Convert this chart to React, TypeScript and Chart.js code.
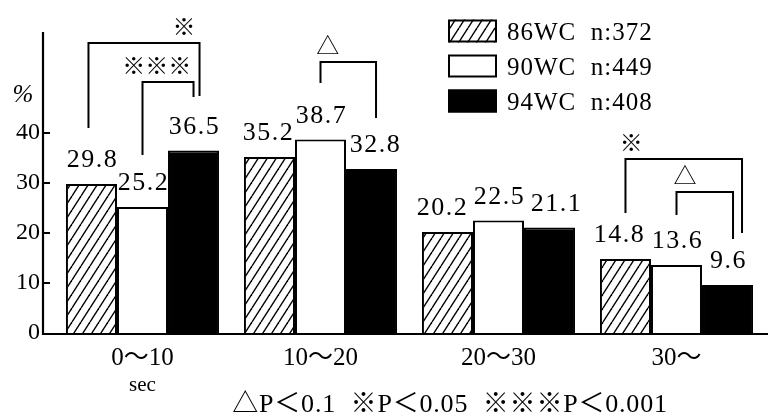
import React, { useEffect, useRef } from "react";
import { Chart, registerables } from "chart.js";

Chart.register(...registerables);

// ---------- data ----------
const categories = ["0～10", "10～20", "20～30", "30～"];
const seriesNames = ["86WC  n:372", "90WC  n:449", "94WC  n:408"];
const wc86 = [29.8, 35.2, 20.2, 14.8];
const wc90 = [25.2, 38.7, 22.5, 13.6];
const wc94 = [36.5, 32.8, 21.1, 9.6];
const yTickValues = [0, 10, 20, 30, 40];
const yUnit = "%";
const xUnit = "sec";
const footnote = "△P＜0.1  ※P＜0.05  ※※※P＜0.001";

// significance brackets: category, from-series, to-series, top value, leg end values, mark
const bracketCats = [0, 0, 1, 3, 3];
const bracketFrom = [0, 1, 1, 0, 1];
const bracketTo = [2, 2, 2, 2, 2];
const bracketTop = [58, 50.2, 54.2, 34.8, 28.2];
const bracketLeftEnd = [41, 35.6, 50, 24, 23.6];
const bracketRightEnd = [47.4, 47.2, 43, 20, 18.8];
const bracketMarks = ["※", "※※※", "△", "※", "△"];

// ---------- styles ----------
const SERIF = "'Liberation Serif', 'Noto Sans CJK JP', serif";
const MARKFONT = "'Noto Sans CJK JP', 'DejaVu Sans', sans-serif";
const bracketLeftNudge = [-3, 0, 0, 0, 0];
const bracketRightNudge = [6, 0, 4.5, 14.5, 5.5];
const bracketMarkFrac = [0.86, 0.28, 0.13, 0.05, 0.15];
// per-series, per-category horizontal label nudges (px)
const labelNudge = [
  [0, -2, -6, -7],
  [0, 0, 0, 0],
  [0, 3, 6, 0],
];

function makeHatch(): CanvasPattern | string {
  const c = document.createElement("canvas");
  const w = 9;
  const h = 14;
  c.width = w;
  c.height = h;
  const g = c.getContext("2d");
  if (!g) return "#fff";
  g.fillStyle = "#fff";
  g.fillRect(0, 0, w, h);
  g.strokeStyle = "#000";
  g.lineWidth = 1.4;
  for (const o of [-w, 0, w]) {
    g.beginPath();
    g.moveTo(o, h);
    g.lineTo(o + w, 0);
    g.stroke();
  }
  const p = g.createPattern(c, "repeat");
  return p || "#fff";
}

export default function App() {
  const ref = useRef<HTMLCanvasElement | null>(null);

  useEffect(() => {
    const canvas = ref.current;
    if (!canvas) return;
    const hatch = makeHatch();

    const overlay = {
      id: "overlay",
      afterDatasetsDraw(chart: any) {
        const ctx = chart.ctx as CanvasRenderingContext2D;
        const y = chart.scales.y;
        const area = chart.chartArea;
        const axisX = area.left - 10.5;
        const y0 = y.getPixelForValue(0);
        ctx.save();
        ctx.strokeStyle = "#000";
        ctx.fillStyle = "#000";
        ctx.lineCap = "butt";

        // axes
        ctx.lineWidth = 2.2;
        ctx.beginPath();
        ctx.moveTo(axisX, y.getPixelForValue(60) - 1);
        ctx.lineTo(axisX, y0 + 1);
        ctx.lineTo(768, y0 + 1);
        ctx.stroke();
        ctx.lineWidth = 2;
        for (const v of yTickValues) {
          if (v === 0) continue;
          const py = y.getPixelForValue(v);
          ctx.beginPath();
          ctx.moveTo(axisX, py);
          ctx.lineTo(axisX + 7, py);
          ctx.stroke();
        }

        // unit labels
        ctx.font = `italic 25px ${SERIF}`;
        ctx.textAlign = "center";
        ctx.textBaseline = "middle";
        ctx.fillText(yUnit, 23, y.getPixelForValue(47.5));
        ctx.font = `21px ${SERIF}`;
        const x0 = chart.scales.x.getPixelForValue(0);
        ctx.fillText(xUnit, x0, 385);

        // value labels
        ctx.font = `26px ${SERIF}`;
        (ctx as any).letterSpacing = "1.5px";
        ctx.textAlign = "center";
        ctx.textBaseline = "alphabetic";
        chart.data.datasets.forEach((ds: any, di: number) => {
          const meta = chart.getDatasetMeta(di);
          meta.data.forEach((bar: any, i: number) => {
            const v = ds.data[i];
            ctx.fillText(v.toFixed(1), bar.x + 1 + labelNudge[di][i], bar.y - 17);
          });
        });
        (ctx as any).letterSpacing = "0px";

        // brackets
        ctx.lineWidth = 2;
        for (let k = 0; k < bracketCats.length; k++) {
          const c = bracketCats[k];
          const lb = chart.getDatasetMeta(bracketFrom[k]).data[c];
          const rb = chart.getDatasetMeta(bracketTo[k]).data[c];
          const lx = lb.x + bracketLeftNudge[k];
          const rx = rb.x + bracketRightNudge[k];
          const ty = y.getPixelForValue(bracketTop[k]);
          ctx.beginPath();
          ctx.moveTo(lx, y.getPixelForValue(bracketLeftEnd[k]));
          ctx.lineTo(lx, ty);
          ctx.lineTo(rx, ty);
          ctx.lineTo(rx, y.getPixelForValue(bracketRightEnd[k]));
          ctx.stroke();
          ctx.font = `23px ${MARKFONT}`;
          ctx.textAlign = "center";
          ctx.textBaseline = "middle";
          const mx = lx + (rx - lx) * bracketMarkFrac[k];
          ctx.fillText(bracketMarks[k], mx, ty - 17);
        }

        // legend
        const lx0 = 448;
        const bw = 49;
        const bh = 23;
        chart.data.datasets.forEach((ds: any, di: number) => {
          const cy = 31 + di * 35;
          ctx.fillStyle = ds.backgroundColor;
          ctx.fillRect(lx0, cy - bh / 2, bw, bh);
          ctx.lineWidth = 2;
          ctx.strokeStyle = "#000";
          ctx.strokeRect(lx0 + 1, cy - bh / 2 + 1, bw - 2, bh - 2);
          ctx.fillStyle = "#000";
          ctx.font = `25px ${SERIF}`;
          (ctx as any).letterSpacing = "1px";
          ctx.textAlign = "left";
          ctx.textBaseline = "middle";
          ctx.fillText(ds.label, 507, cy + 2);
          (ctx as any).letterSpacing = "0px";
        });

        // footnote
        ctx.fillStyle = "#000";
        ctx.font = `26px ${SERIF}`;
        (ctx as any).letterSpacing = "0.8px";
        ctx.textAlign = "center";
        ctx.textBaseline = "middle";
        ctx.fillText(footnote, 450, 405);
        (ctx as any).letterSpacing = "0px";
        ctx.restore();
      },
    };

    const chart = new Chart(canvas, {
      type: "bar",
      data: {
        labels: categories,
        datasets: [
          { label: seriesNames[0], data: wc86, backgroundColor: hatch as any, borderColor: "#000", borderWidth: 2, borderSkipped: "start" },
          { label: seriesNames[1], data: wc90, backgroundColor: "#ffffff", borderColor: "#000", borderWidth: 2, borderSkipped: "start" },
          { label: seriesNames[2], data: wc94, backgroundColor: "#000000", borderColor: "#000", borderWidth: 2, borderSkipped: "start" },
        ],
      },
      options: {
        animation: false,
        responsive: false,
        maintainAspectRatio: false,
        devicePixelRatio: 1,
        layout: { padding: { top: 33, right: 2.5, left: 0, bottom: 0 } },
        plugins: { legend: { display: false }, tooltip: { enabled: false }, title: { display: false } },
        datasets: { bar: { categoryPercentage: 0.86, barPercentage: 1.0 } },
        scales: {
          x: {
            type: "category",
            offset: true,
            grid: { display: false, drawTicks: false },
            border: { display: false },
            ticks: { color: "#000", font: { family: SERIF, size: 25 }, padding: 10, maxRotation: 0, autoSkip: false },
            afterFit: (s: any) => {
              s.height = 85;
            },
          },
          y: {
            min: 0,
            max: 60,
            grid: { display: false, drawTicks: false },
            border: { display: false },
            ticks: {
              stepSize: 10,
              color: "#000",
              font: { family: SERIF, size: 24 },
              padding: 13.5,
              callback: (v: any) => (yTickValues.includes(Number(v)) ? String(v) : ""),
            },
            afterFit: (s: any) => {
              s.width = 53.5;
            },
          },
        },
      },
      plugins: [overlay],
    });

    return () => chart.destroy();
  }, []);

  return (
    <div style={{ position: "absolute", left: 0, top: 0, width: 768, height: 418, background: "#fff" }}>
      <canvas ref={ref} width={768} height={418} style={{ display: "block", width: 768, height: 418 }} />
    </div>
  );
}
